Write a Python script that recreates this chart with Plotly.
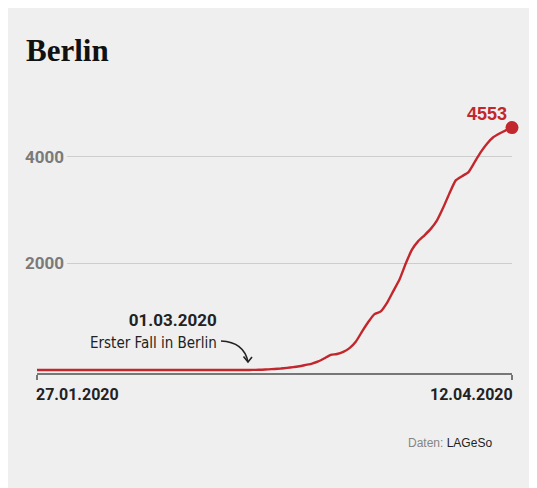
import plotly.graph_objects as go
import pandas as pd

# ---- data -------------------------------------------------------------
dates = pd.date_range("2020-01-27", "2020-04-12", freq="D")
cases = [0, 0, 0, 0, 0, 0, 0, 0, 0, 0,
         0, 0, 0, 0, 0, 0, 0, 0, 0, 0,
         0, 0, 0, 0, 0, 0, 0, 0, 0, 0,
         0, 0, 0, 0,
         1, 3, 6, 12, 20, 28, 40, 55, 70, 95,
         120, 160, 220, 285, 300, 340, 410, 530, 720, 900,
         1050, 1100, 1260, 1480, 1700, 2000, 2260, 2420, 2530, 2650,
         2810, 3050, 3320, 3560, 3640, 3710, 3900, 4090, 4250, 4370,
         4440, 4500, 4553]
y_tick_values = [2000, 4000]
x_tick_labels = ["27.01.2020", "12.04.2020"]
first_case_date = "01.03.2020"
first_case_text = "Erster Fall in Berlin"
title_text = "Berlin"
source_label = "Daten:"
source_name = "LAGeSo"

# ---- styles -----------------------------------------------------------
RED = "#c1272d"
BG = "#efefef"
DARK = "#222222"
GREY = "#7a7a7a"
Y_RANGE = [-56.3, 5070]
W, H = 537, 488          # page body adds 8px margin; overflow is cropped
L, T = 29, 92            # plot-area left/top in figure px
PW, PH = 475, 273        # plot-area size

fig = go.Figure()

# helper trace so the gridline subplot is drawn
fig.add_trace(go.Scatter(
    x=[0.5, 0.5], y=y_tick_values, mode="markers",
    marker=dict(opacity=0), xaxis="x", yaxis="y",
    hoverinfo="skip", showlegend=False,
))
fig.add_trace(go.Scatter(
    x=dates, y=cases, mode="lines",
    line=dict(color=RED, width=2.4, shape="spline", smoothing=0.5),
    xaxis="x2", yaxis="y2", hoverinfo="x+y", showlegend=False,
))
fig.add_trace(go.Scatter(
    x=[dates[-1]], y=[cases[-1]], mode="markers",
    marker=dict(color=RED, size=13), cliponaxis=False,
    xaxis="x2", yaxis="y2", showlegend=False,
))


def px(x, y):
    """reference-pixel -> paper coords of the plot area"""
    return (x - 8 - L) / PW, (T + PH - (y - 8)) / PH

# curved arrow
sx, sy = px(221, 341)
cx, cy = px(244, 342)
ex, ey = px(248, 362)
fig.add_shape(type="path", xref="paper", yref="paper",
              path=f"M {sx} {sy} Q {cx} {cy} {ex} {ey}",
              line=dict(color=DARK, width=1.6))
h1x, h1y = px(243.5, 356.5)
h2x, h2y = px(252, 357)
fig.add_shape(type="path", xref="paper", yref="paper",
              path=f"M {h1x} {h1y} L {ex} {ey} L {h2x} {h2y}",
              line=dict(color=DARK, width=1.6))

_, date_y = px(0, 394)
ax_, ay_ = px(216, 331)
sx_, sy_ = px(492, 443)

annotations = [
    dict(x=dates[0], xref="x2", y=date_y, yref="paper",
         text=f"<b>{x_tick_labels[0]}</b>", showarrow=False,
         xanchor="left", yanchor="middle", xshift=-3,
         font=dict(family="Roboto", size=16, color=DARK)),
    dict(x=dates[-1], xref="x2", y=date_y, yref="paper",
         text=f"<b>{x_tick_labels[1]}</b>", showarrow=False,
         xanchor="right", yanchor="middle", xshift=3,
         font=dict(family="Roboto", size=16, color=DARK)),
    dict(x=dates[-1], xref="x2", y=cases[-1], yref="y2",
         text=f"<b>{cases[-1]}</b>", showarrow=False,
         xanchor="right", yanchor="bottom", xshift=-3, yshift=2,
         font=dict(family="Liberation Sans", size=18, color=RED)),
    dict(x=ax_, xref="paper", y=ay_, yref="paper",
         text=f"<b>{first_case_date}</b><br>"
              f"<span style='font-family:DejaVu Sans Condensed, Roboto; font-size:15px'>"
              f"{first_case_text}</span>",
         showarrow=False, align="right", xanchor="right", yanchor="middle",
         xshift=3,
         font=dict(family="Roboto", size=17, color=DARK)),
    dict(x=sx_, xref="paper", y=sy_, yref="paper",
         text=f"<span style='color:#858585'>{source_label}</span> {source_name}",
         showarrow=False, xanchor="right", yanchor="middle", xshift=2,
         font=dict(family="Liberation Sans", size=12, color=DARK)),
]

fig.update_layout(
    width=W, height=H,
    margin=dict(l=L, r=W - L - PW, t=T, b=H - T - PH),
    paper_bgcolor=BG, plot_bgcolor="rgba(0,0,0,0)",
    title=dict(text=f"<b>{title_text}</b>", xref="container", yref="container",
               x=(26 - 8) / W, xanchor="left", y=1 - (50 - 8) / H, yanchor="middle",
               font=dict(family="Liberation Serif", size=31, color="#111111")),
    xaxis=dict(domain=[(67 - 8 - L) / PW, 1], range=[0, 1], visible=False,
               anchor="y", fixedrange=True),
    yaxis=dict(domain=[0, 1], range=Y_RANGE, anchor="x",
               tickvals=y_tick_values, ticks="", showline=False,
               zeroline=False, showgrid=True, gridcolor="#cdcdcd", gridwidth=1,
               tickfont=dict(family="Roboto", size=17, color=GREY, weight="bold"),
               ticklabelstandoff=2),
    xaxis2=dict(domain=[0, 1], anchor="y2", type="date",
                range=[dates[0], dates[-1]],
                showline=True, linecolor="#777777", linewidth=2,
                ticks="outside", tickvals=[dates[0], dates[-1]],
                ticklen=5, tickwidth=2, tickcolor="#777777",
                showticklabels=False, showgrid=False, zeroline=False),
    yaxis2=dict(domain=[0, 1], range=Y_RANGE, anchor="x2", visible=False),
    annotations=annotations,
    showlegend=False,
)

fig.write_html("out.html")
